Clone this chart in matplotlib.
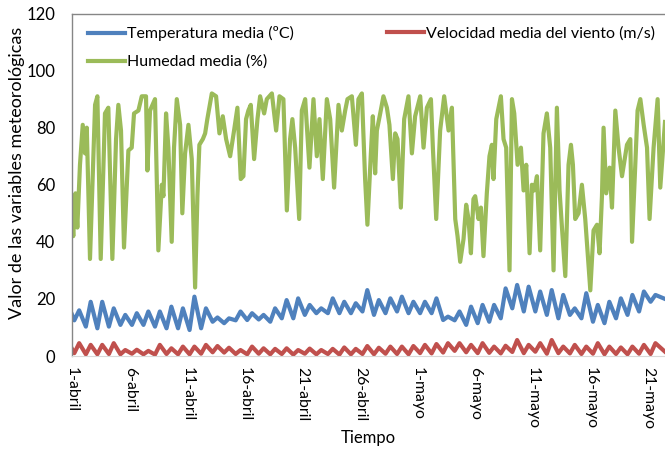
import numpy as np
import matplotlib
matplotlib.use("Agg")
import matplotlib.pyplot as plt
from matplotlib.lines import Line2D

plt.rcParams['font.family'] = ['Lato', 'DejaVu Sans']

# tick labels on the time axis (one every 5 days)
tick_days = [0, 5, 10, 15, 20, 25, 30, 35, 40, 45, 50]
tick_labels = ['1-abril', '6-abril', '11-abril', '16-abril', '21-abril', '26-abril',
               '1-mayo', '6-mayo', '11-mayo', '16-mayo', '21-mayo']

# daily extremes of temperature (ºC), one value per day from 1-abril
temp_min = [12.5, 10.3, 9.7, 10.3, 10.9, 10.9, 10.9, 10.3, 9.7, 9.7, 9.1,
            9.7, 12.0, 11.5, 12.5, 12.6, 12.8, 12.0, 13.2, 13.2, 14.4,
            15.0, 15.0, 15.0, 15.0, 15.6, 14.4, 15.0, 15.6, 15.0, 15.0,
            15.0, 12.6, 12.5, 10.9, 11.5, 12.0, 13.2, 16.7, 15.6, 15.6,
            14.4, 13.2, 14.4, 13.2, 12.0, 11.5, 13.2, 14.4, 15.6, 19.0]
temp_max = [16.0, 19.0, 19.0, 16.7, 14.4, 15.0, 15.6, 15.6, 17.3, 16.7, 20.8,
            16.7, 13.5, 13.2, 15.6, 15.0, 14.4, 16.7, 19.6, 20.2, 17.9,
            16.7, 20.2, 19.0, 18.5, 23.1, 19.6, 20.2, 20.8, 19.0, 19.0,
            20.2, 13.8, 15.6, 17.3, 17.9, 17.9, 23.7, 24.9, 24.3, 22.6,
            23.1, 21.4, 16.7, 22.0, 17.9, 19.0, 20.2, 21.4, 22.6, 21.4]

# daily extremes of wind speed (m/s)
wind_min = [1.0, 0.6, 0.6, 0.7, 0.6, 0.8, 0.6, 0.5, 0.7, 0.6, 0.6,
            0.8, 1.3, 1.2, 0.7, 0.6, 0.8, 0.6, 0.7, 0.5, 0.8,
            0.6, 0.7, 0.5, 0.6, 0.7, 0.6, 0.8, 0.7, 0.6, 1.0,
            0.9, 1.2, 1.8, 1.3, 1.0, 1.1, 0.9, 1.4, 1.0, 1.5,
            0.8, 1.0, 0.9, 0.7, 0.8, 0.6, 0.7, 0.6, 0.8, 0.7]
wind_max = [4.5, 3.9, 3.9, 4.5, 2.1, 2.2, 1.8, 3.9, 2.7, 3.3, 3.3,
            3.9, 3.5, 2.9, 2.1, 3.3, 2.7, 2.5, 2.7, 2.1, 2.6,
            2.1, 2.5, 3.0, 2.5, 3.5, 2.9, 3.3, 3.3, 3.5, 3.9,
            4.2, 4.5, 4.5, 3.9, 4.5, 3.3, 3.6, 5.6, 3.9, 4.5,
            5.6, 3.3, 3.9, 3.3, 4.5, 3.3, 3.0, 3.3, 3.9, 4.5]

# relative humidity (%) at its turning points, time in days from 1-abril
hum_day = [0.0, 0.11, 0.3, 0.46, 0.69, 0.93, 1.13, 1.28, 1.56, 1.85, 2.0, 2.2, 2.49,
           2.86, 3.15, 3.5, 3.82, 4.02, 4.25, 4.51, 4.89, 5.18, 5.38, 5.76, 6.05,
           6.42, 6.54, 6.77, 7.2, 7.49, 7.79, 7.93, 8.16, 8.36, 8.65, 8.85, 9.09,
           9.38, 9.57, 9.81, 10.1, 10.39, 10.68, 10.88, 11.05, 11.35, 11.55, 11.74,
           12.13, 12.5, 12.79, 13.08, 13.37, 13.72, 14.06, 14.35, 14.64, 14.87,
           15.1, 15.3, 15.51, 15.8, 16.09, 16.32, 16.67, 16.9, 17.34, 17.71, 18.0,
           18.34, 18.64, 18.92, 19.12, 19.36, 19.71, 19.94, 20.23, 20.6, 20.95,
           21.24, 21.47, 21.76, 22.11, 22.4, 22.74, 23.12, 23.41, 23.7, 23.9,
           24.28, 24.63, 24.85, 25.15, 25.43, 25.63, 25.93, 26.1, 26.3, 26.45,
           26.74, 27.02, 27.32, 27.54, 27.84, 28.04, 28.24, 28.53, 28.82, 29.19,
           29.49, 29.77, 30.21, 30.5, 30.79, 31.14, 31.31, 31.6, 31.94, 32.29,
           32.67, 32.96, 33.25, 33.45, 33.68, 33.97, 34.2, 34.4, 34.61, 34.83,
           34.98, 35.27, 35.48, 35.7, 35.99, 36.22, 36.43, 36.57, 36.81, 37.01,
           37.21, 37.44, 37.67, 37.96, 38.17, 38.37, 38.66, 38.95, 39.18, 39.41,
           39.7, 39.9, 40.1, 40.34, 40.62, 40.91, 41.2, 41.49, 41.78, 42.07, 42.3,
           42.51, 42.8, 43.08, 43.29, 43.46, 43.66, 43.95, 44.24, 44.53, 44.97,
           45.25, 45.55, 45.77, 45.98, 46.12, 46.35, 46.64, 46.85, 47.14, 47.42,
           47.72, 48.15, 48.44, 48.59, 48.87, 49.07, 49.31, 49.6, 49.89, 50.11,
           50.46, 50.81, 51.04, 51.33, 51.45]
hum_val = [48, 42, 57, 45, 67, 81, 71, 80, 34, 70, 88, 91, 34,
           85, 87, 34, 76, 88, 79, 38, 72, 73, 85, 86, 91,
           91, 65, 86, 90, 37, 60, 56, 85, 73, 40, 73, 90,
           81, 50, 71, 81, 69, 24, 56, 74, 76, 78, 83,
           92, 91, 78, 84, 76, 70, 79, 87, 62, 63,
           83, 86, 88, 69, 83, 91, 85, 90, 92, 79, 91,
           90, 51, 76, 83, 73, 48, 86, 90, 66, 90,
           70, 83, 62, 90, 83, 59, 88, 79, 86, 90,
           91, 74, 90, 92, 62, 46, 71, 84, 64, 79,
           85, 91, 87, 81, 62, 78, 76, 52, 83, 91,
           71, 84, 91, 73, 87, 90, 73, 48, 79, 91,
           79, 87, 48, 42, 33, 41, 53, 48, 36, 55,
           56, 48, 52, 35, 57, 70, 74, 62, 83, 87,
           91, 76, 73, 30, 90, 85, 67, 73, 58, 67,
           36, 60, 58, 63, 37, 78, 85, 73, 30, 87, 58,
           45, 28, 67, 74, 67, 48, 50, 60, 48, 23,
           44, 46, 36, 56, 80, 57, 66, 52, 86, 73,
           63, 74, 76, 40, 67, 86, 90, 81, 73, 48,
           73, 90, 59, 75, 82]

end_day = 51.45
temp_start, temp_end = 14.5, 20.0
wind_start, wind_end = 2.5, 1.5


def daily_series(lo, hi, start, end):
    # low value early in the morning, high value in the afternoon
    d = np.arange(len(lo))
    t = np.column_stack([d + 0.2, d + 0.62]).ravel()
    v = np.column_stack([lo, hi]).ravel()
    return np.r_[0.0, t, end_day], np.r_[start, v, end]


temp_t, temp_v = daily_series(temp_min, temp_max, temp_start, temp_end)
wind_t, wind_v = daily_series(wind_min, wind_max, wind_start, wind_end)

c_temp = '#4F81BD'
c_wind = '#C0504D'
c_hum = '#9BBB59'
lw = 3.0

fig = plt.figure(figsize=(6.65, 4.49), dpi=100)
ax = fig.add_axes([0.1083, 0.2071, 0.8917, 0.7628])

ax.plot(hum_day, hum_val, color=c_hum, lw=lw, solid_joinstyle='round')
ax.plot(temp_t, temp_v, color=c_temp, lw=lw, solid_joinstyle='round')
ax.plot(wind_t, wind_v, color=c_wind, lw=lw, solid_joinstyle='round')

ax.set_xlim(0, end_day)
ax.set_ylim(0, 120)
ax.set_yticks(range(0, 121, 20))
ax.set_xticks(tick_days)
ax.set_xticklabels(tick_labels, rotation=270, ha='center', va='top')
ax.tick_params(axis='both', length=0, colors='black')
ax.tick_params(axis='y', pad=12, labelsize=12)
ax.tick_params(axis='x', pad=8, labelsize=11.3)

for side in ['left', 'top']:
    ax.spines[side].set_color('#868686')
    ax.spines[side].set_linewidth(1.0)
ax.spines['right'].set_visible(False)
ax.spines['bottom'].set_color('#d9d9d9')

ax.set_ylabel('Valor de las variables meteorológicas', fontsize=13.0)
ax.yaxis.set_label_coords(-0.079, 0.535)
ax.set_xlabel('Tiempo', fontsize=12)
ax.xaxis.set_label_coords(0.5, -0.215)

h_temp = Line2D([], [], color=c_temp, lw=lw)
h_hum = Line2D([], [], color=c_hum, lw=lw)
h_wind = Line2D([], [], color=c_wind, lw=lw)

leg1 = ax.legend([h_temp, h_hum], ['Temperatura media (ºC)', 'Humedad media (%)'],
                 loc='upper left', bbox_to_anchor=(0.003, 1.005), frameon=False,
                 fontsize=11.5, handlelength=2.3, handletextpad=0.12, labelspacing=0.85)
ax.add_artist(leg1)
ax.legend([h_wind], ['Velocidad media del viento (m/s)'],
          loc='upper left', bbox_to_anchor=(0.507, 1.005), frameon=False,
          fontsize=11.5, handlelength=2.3, handletextpad=0.12)

fig.savefig('out.png', dpi=100)
